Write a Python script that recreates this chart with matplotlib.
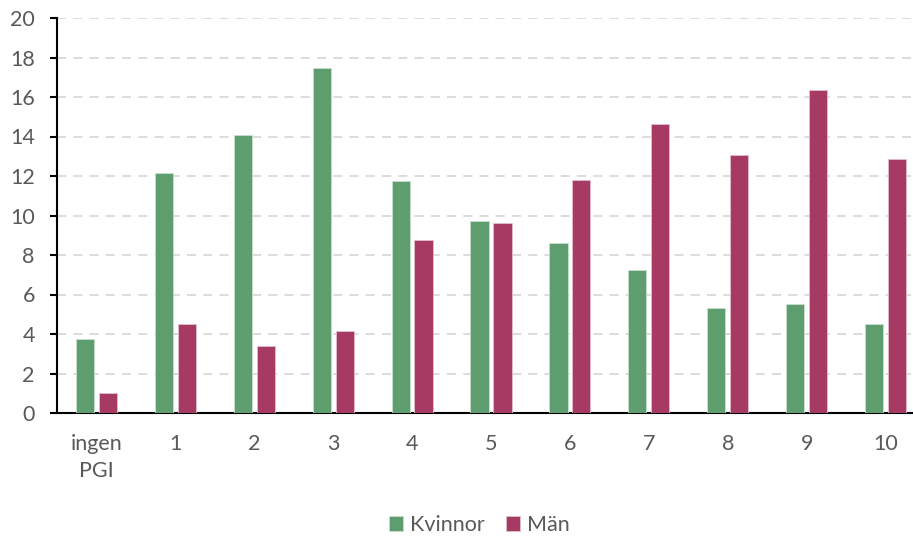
import numpy as np
import matplotlib
matplotlib.use("Agg")
import matplotlib.pyplot as plt

plt.rcParams['font.family'] = ['Lato', 'DejaVu Sans']

# Data
kategorier = ["ingen\nPGI", "1", "2", "3", "4", "5", "6", "7", "8", "9", "10"]
kvinnor = [3.75, 12.15, 14.08, 17.47, 11.75, 9.72, 8.6, 7.24, 5.32, 5.52, 4.5]
man = [1.01, 4.5, 3.39, 4.15, 8.76, 9.62, 11.8, 14.63, 13.06, 16.35, 12.86]

fig = plt.figure(figsize=(9.13, 5.40), dpi=100)
# plot area runs past the right edge, as in the original
ax = fig.add_axes([57 / 913, 1 - 413 / 540, 868 / 913, 395 / 540])

x = np.arange(len(kategorier))
bredd = 0.23
ax.bar(x - 0.145, kvinnor, bredd, color="#5E9E6E", edgecolor="#C9E0CF",
       linewidth=0.6, label="Kvinnor", zorder=3)
ax.bar(x + 0.145, man, bredd, color="#A63A62", edgecolor="#E3BFCD",
       linewidth=0.6, label="Män", zorder=3)

ax.set_xlim(-0.5, len(kategorier) - 0.5)
ax.set_ylim(0, 20)
ax.set_yticks(range(0, 21, 2))
ax.set_xticks(x)
ax.set_xticklabels(kategorier, linespacing=1.45)

ax.yaxis.grid(True, color="#D9D9D9", linestyle=(0, (5, 4)), linewidth=1.3, zorder=0)
for s in ["top", "right"]:
    ax.spines[s].set_visible(False)
ax.spines["left"].set_linewidth(1.5)
ax.spines["bottom"].set_linewidth(1.5)
ax.tick_params(axis="y", length=5, width=1.5, colors="black", labelcolor="#595959",
               labelsize=15.5, pad=11)
ax.tick_params(axis="x", length=0, labelcolor="#595959", labelsize=15.5, pad=15)

fig.legend(loc="lower center", bbox_to_anchor=(0.525, -0.027), ncol=2, frameon=False,
           fontsize=15.5, labelcolor="#595959", handlelength=0.65, handleheight=0.65,
           columnspacing=1.0, handletextpad=0.3)

fig.savefig("out.png", dpi=100)
